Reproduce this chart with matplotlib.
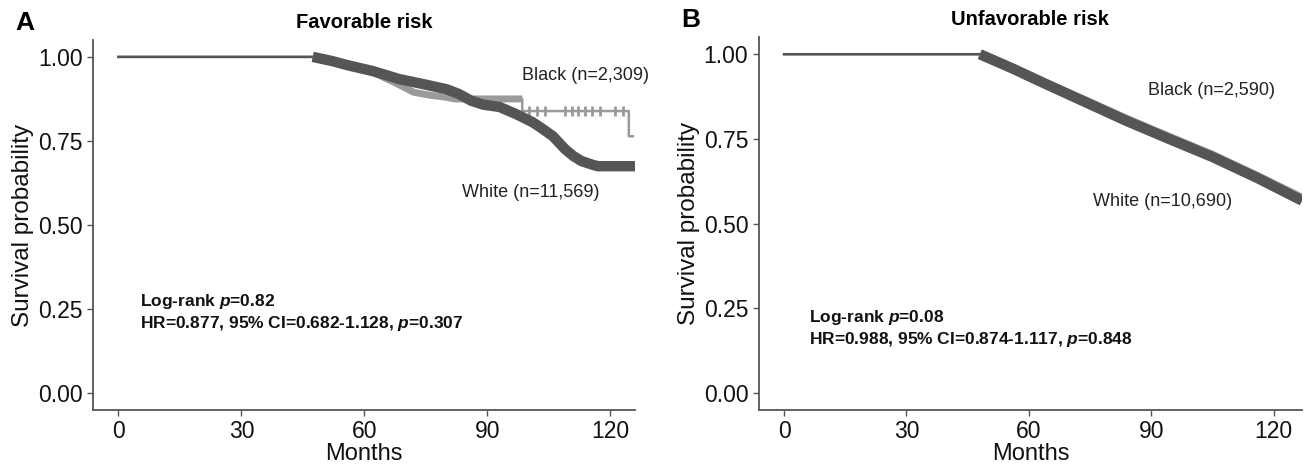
import matplotlib
matplotlib.use("Agg")
import matplotlib.pyplot as plt

plt.rcParams['font.family'] = ['Liberation Sans', 'DejaVu Sans']
plt.rcParams['mathtext.fontset'] = 'custom'
plt.rcParams['mathtext.bfit'] = 'Liberation Sans:italic:bold'
plt.rcParams['mathtext.it'] = 'Liberation Sans:italic'

# Favorable risk: survival curves (months, survival)
fav_white_t = [0, 47.4, 52, 56, 62, 68.5, 74, 80, 83, 86, 89, 93, 97, 101, 103, 106, 109, 111, 113, 116, 117, 126]
fav_white_s = [1.0, 1.0, 0.988, 0.975, 0.958, 0.934, 0.92, 0.904, 0.89, 0.87, 0.858, 0.851, 0.83, 0.806, 0.79, 0.764, 0.725, 0.705, 0.69, 0.678, 0.675, 0.675]
fav_black_t = [0, 47.4, 52, 56, 62, 68, 72, 76, 80, 82, 98.5, 98.5, 124.5, 124.5, 125.5]
fav_black_s = [1.0, 1.0, 0.988, 0.975, 0.955, 0.92, 0.895, 0.886, 0.88, 0.875, 0.875, 0.839, 0.839, 0.764, 0.764]
fav_black_cens = [100.1, 102.1, 104.1, 109.0, 110.6, 112.2, 113.8, 115.5, 117.5, 121.1, 123.1]

# Unfavorable risk
unf_white_t = [0, 48, 56, 64, 74, 84, 94, 105, 116, 127]
unf_white_s = [1.0, 1.0, 0.958, 0.913, 0.858, 0.803, 0.752, 0.697, 0.635, 0.568]
unf_black_t = [0, 48, 56, 64, 74, 84, 94, 105, 116, 127]
unf_black_s = [1.0, 1.0, 0.96, 0.918, 0.865, 0.811, 0.76, 0.705, 0.643, 0.578]

panels = [
    dict(letter='A', title='Favorable risk',
         wt=fav_white_t, ws=fav_white_s, bt=fav_black_t, bs=fav_black_s,
         thick_end=11, cens=fav_black_cens,
         black_lab='Black (n=2,309)', black_xy=(98.4, 0.946),
         white_lab='White (n=11,569)', white_xy=(83.8, 0.597),
         stat1=r'Log-rank $\mathbfit{p}$=0.82',
         stat2=r'HR=0.877, 95% CI=0.682-1.128, $\mathbfit{p}$=0.307',
         stat_xy=(5.3, 0.272), xmax=126),
    dict(letter='B', title='Unfavorable risk',
         wt=unf_white_t, ws=unf_white_s, bt=unf_black_t, bs=unf_black_s,
         thick_end=None, cens=[],
         black_lab='Black (n=2,590)', black_xy=(89.3, 0.893),
         white_lab='White (n=10,690)', white_xy=(75.8, 0.564),
         stat1=r'Log-rank $\mathbfit{p}$=0.08',
         stat2=r'HR=0.988, 95% CI=0.874-1.117, $\mathbfit{p}$=0.848',
         stat_xy=(6.1, 0.224), xmax=127),
]

white_col = '#555555'
black_col = '#9a9a9a'

fig = plt.figure(figsize=(13.06, 4.66), dpi=100)
boxes = [[0.0712, 0.120, 0.415, 0.794], [0.581, 0.120, 0.416, 0.800]]

for p, box in zip(panels, boxes):
    ax = fig.add_axes(box)
    # thin flat part before the first censoring, dense censor region drawn thick
    ax.plot(p['bt'], p['bs'], color=black_col, lw=1.8)
    ax.plot(p['wt'], p['ws'], color=white_col, lw=1.8)
    ax.plot(p['bt'][1:p['thick_end']], p['bs'][1:p['thick_end']], color=black_col, lw=5,
            solid_capstyle='butt', solid_joinstyle='miter')
    if p['cens']:
        ax.plot(p['cens'], [p['bs'][-4]] * len(p['cens']), ls='none', marker='|',
                ms=7, mew=2, color=black_col)
    ax.plot(p['wt'][1:], p['ws'][1:], color=white_col, lw=7.5,
            solid_capstyle='butt', solid_joinstyle='miter')

    ax.set_xlim(-6.2, p['xmax'])
    ax.set_ylim(-0.05, 1.05)
    ax.set_xticks([0, 30, 60, 90, 120])
    ax.set_yticks([0, 0.25, 0.5, 0.75, 1.0])
    ax.set_yticklabels(['0.00', '0.25', '0.50', '0.75', '1.00'])
    ax.tick_params(labelsize=16.5, length=4, width=1, colors='#555555', labelcolor='#111111')
    for side in ['top', 'right']:
        ax.spines[side].set_visible(False)
    for side in ['left', 'bottom']:
        ax.spines[side].set_color('#555555')
        ax.spines[side].set_linewidth(1.3)
    ax.set_xlabel('Months', fontsize=17, labelpad=0, color='#111111')
    ax.set_ylabel('Survival probability', fontsize=17.5, labelpad=3, color='#111111')
    ax.set_title(p['title'], fontsize=14.5, fontweight='bold', pad=9)

    ax.text(*p['black_xy'], p['black_lab'], fontsize=13, va='center', ha='left', color='#222222', clip_on=False)
    ax.text(*p['white_xy'], p['white_lab'], fontsize=13, va='center', ha='left', color='#222222')
    sx, sy = p['stat_xy']
    ax.text(sx, sy, p['stat1'], fontsize=12.5, fontweight='bold', va='center', color='#111111')
    ax.text(sx, sy - 0.066, p['stat2'], fontsize=12.5, fontweight='bold', va='center', color='#111111')

    ax.text(-0.143, 1.013, p['letter'], transform=ax.transAxes, fontsize=19, fontweight='bold',
            va='bottom', ha='left')

fig.savefig('out.png', dpi=100)
